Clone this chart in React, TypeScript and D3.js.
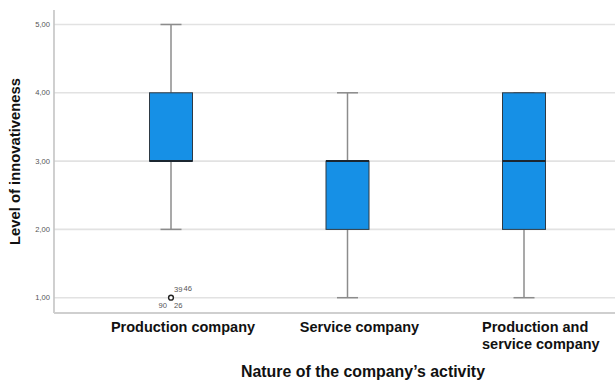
import React from "react";
import * as d3 from "d3";

// Box-plot summary per activity type
const categories = ["Production company", "Service company", "Production and service company"];
const categoryLines = [["Production company"], ["Service company"], ["Production and", "service company"]];
const whiskerLow = [2, 1, 1];
const q1 = [3, 2, 2];
const median = [3, 3, 3];
const q3 = [4, 3, 4];
const whiskerHigh = [5, 4, 4];

// Outlying cases (category index, value) and their case numbers
const outlierCategory = [0];
const outlierValue = [1];
const outlierCasesAbove = ["39", "46"];
const outlierCasesBelow = ["90", "26"];

const yTicks = [1, 2, 3, 4, 5];

const W = 615;
const H = 383;
const FONT = "Arial, 'Liberation Sans', sans-serif";

export default function App() {
  const left = 54;
  const right = W;
  const top = 10;
  const bottom = 313;

  const y = d3.scaleLinear().domain([0.776, 5.212]).range([bottom, top]);
  const x = d3.scalePoint<string>().domain(categories).range([171, 524]);

  const boxW = 43;
  const capW = 21;
  const fmt = (v: number) => d3.format(".2f")(v).replace(".", ",");

  return (
    <svg
      width={W}
      height={H}
      style={{ position: "absolute", left: 0, top: 0, background: "#fff" }}
    >
      {/* gridlines */}
      {yTicks.map((t) => (
        <line key={"g" + t} x1={left} x2={right} y1={y(t)} y2={y(t)} stroke="#e2e2e2" strokeWidth={1.6} />
      ))}
      {/* tick labels */}
      {yTicks.map((t) => (
        <text
          key={"t" + t}
          x={50}
          y={y(t)}
          dy="0.35em"
          textAnchor="end"
          fontFamily={FONT}
          fontSize={7.6}
          fill="#555"
        >
          {fmt(t)}
        </text>
      ))}
      {/* axes */}
      <line x1={left} x2={left} y1={top} y2={bottom} stroke="#c4c4c4" strokeWidth={1.6} />
      <line x1={left} x2={right} y1={bottom} y2={bottom} stroke="#cfcfcf" strokeWidth={2.2} />

      {/* boxes */}
      {categories.map((c, i) => {
        const cx = x(c)!;
        return (
          <g key={c}>
            <line x1={cx} x2={cx} y1={y(whiskerHigh[i])} y2={y(q3[i])} stroke="#8c8c8c" strokeWidth={1.5} />
            <line x1={cx} x2={cx} y1={y(q1[i])} y2={y(whiskerLow[i])} stroke="#8c8c8c" strokeWidth={1.5} />
            <line x1={cx - capW / 2} x2={cx + capW / 2} y1={y(whiskerHigh[i])} y2={y(whiskerHigh[i])} stroke="#8c8c8c" strokeWidth={1.5} />
            <line x1={cx - capW / 2} x2={cx + capW / 2} y1={y(whiskerLow[i])} y2={y(whiskerLow[i])} stroke="#8c8c8c" strokeWidth={1.5} />
            <rect
              x={cx - boxW / 2}
              y={y(q3[i])}
              width={boxW}
              height={y(q1[i]) - y(q3[i])}
              fill="#1690e6"
              stroke="#2e3a44"
              strokeWidth={1}
            />
            <line x1={cx - boxW / 2} x2={cx + boxW / 2} y1={y(median[i])} y2={y(median[i])} stroke="#1b2630" strokeWidth={2} />
          </g>
        );
      })}

      {/* outliers */}
      {outlierCategory.map((ci, k) => {
        const cx = x(categories[ci])!;
        const cy = y(outlierValue[k]);
        return (
          <g key={"o" + k}>
            <circle cx={cx} cy={cy} r={2.4} fill="#fff" stroke="#222" strokeWidth={1.4} />
            <text x={cx + 3} y={cy - 5.5} fontFamily={FONT} fontSize={7.6} fill="#555">
              {outlierCasesAbove[0]}
            </text>
            <text x={cx + 12.5} y={cy - 6.5} fontFamily={FONT} fontSize={7.6} fill="#555">
              {outlierCasesAbove[1]}
            </text>
            <text x={cx - 4} y={cy + 10.5} textAnchor="end" fontFamily={FONT} fontSize={7.6} fill="#555">
              {outlierCasesBelow[0]}
            </text>
            <text x={cx + 3} y={cy + 10.5} fontFamily={FONT} fontSize={7.6} fill="#555">
              {outlierCasesBelow[1]}
            </text>
          </g>
        );
      })}

      {/* category labels */}
      {categories.map((c, i) => {
        const cx = x(c)! + 12;
        const lines = categoryLines[i];
        if (lines.length === 1) {
          return (
            <text key={"l" + c} x={cx} y={331.7} textAnchor="middle" fontFamily={FONT} fontWeight="bold" fontSize={14.5} fill="#111">
              {lines[0]}
            </text>
          );
        }
        return (
          <text key={"l" + c} x={cx - 54} y={331.7} fontFamily={FONT} fontWeight="bold" fontSize={14.5} fill="#111">
            {lines.map((ln, j) => (
              <tspan key={j} x={cx - 54} dy={j === 0 ? 0 : 17.6}>
                {ln}
              </tspan>
            ))}
          </text>
        );
      })}

      {/* axis titles */}
      <text x={363} y={376.7} textAnchor="middle" fontFamily={FONT} fontWeight="bold" fontSize={15.9} fill="#111">
        Nature of the company’s activity
      </text>
      <text
        transform={`translate(19.5,161.5) rotate(-90)`}
        textAnchor="middle"
        fontFamily={FONT}
        fontWeight="bold"
        fontSize={14.8}
        fill="#111"
      >
        Level of innovativeness
      </text>
    </svg>
  );
}
